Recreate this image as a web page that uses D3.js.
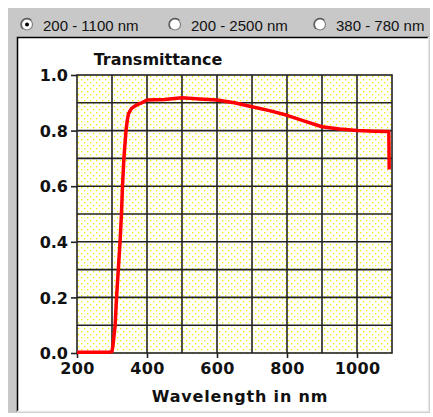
<!DOCTYPE html>
<html><head><meta charset="utf-8">
<script src="https://cdn.jsdelivr.net/npm/d3@7"></script>
<style>body{margin:0;background:#fff;}svg{display:block;}</style>
</head><body>
<script>
const wavelength = [200, 290, 300, 303, 309, 313, 318, 323, 327, 330, 334, 340, 344, 347, 352, 356, 365, 375, 385, 400, 450, 500, 550, 600, 650, 700, 750, 800, 850, 900, 950, 1000, 1050, 1091, 1092];
const transmittance = [0.003, 0.003, 0.005, 0.03, 0.1, 0.2, 0.3, 0.4, 0.5, 0.6, 0.7, 0.8, 0.84, 0.86, 0.872, 0.88, 0.888, 0.895, 0.9, 0.91, 0.912, 0.918, 0.914, 0.91, 0.9, 0.886, 0.872, 0.855, 0.834, 0.814, 0.806, 0.800, 0.798, 0.797, 0.66];
const xTickLabels = [200, 400, 600, 800, 1000];
const yTickLabels = [0.0, 0.2, 0.4, 0.6, 0.8, 1.0];
const xGrid = [300, 400, 500, 600, 700, 800, 900, 1000];
const yGrid = [0.1, 0.2, 0.3, 0.4, 0.5, 0.6, 0.7, 0.8, 0.9];
const rangeOptions = ["200 - 1100 nm", "200 - 2500 nm", "380 - 780 nm"];
const selectedOption = 0;
const titleText = "Transmittance";
const xAxisTitle = "Wavelength in nm";

const W = 433, H = 417;
const svg = d3.select("body").append("svg").attr("width", W).attr("height", H);

// pattern
const defs = svg.append("defs");
const pat = defs.append("pattern").attr("id", "dots").attr("patternUnits", "userSpaceOnUse")
  .attr("width", 6).attr("height", 6).attr("x", 77).attr("y", 75);
pat.append("rect").attr("width", 6).attr("height", 6).attr("fill", "#fff");
pat.append("rect").attr("x", 1).attr("y", 1).attr("width", 1.3).attr("height", 1.3).attr("fill", "#f4f000");
pat.append("rect").attr("x", 4).attr("y", 4).attr("width", 1.3).attr("height", 1.3).attr("fill", "#f4f000");

// window background
svg.append("rect").attr("x", 8).attr("y", 8).attr("width", 422).attr("height", 405).attr("fill", "#c8c8c8");
// panel
svg.append("rect").attr("x", 17).attr("y", 37).attr("width", 412).attr("height", 375).attr("fill", "#fff");
svg.append("path").attr("d", "M17.5,412 V37.5 H429").attr("fill", "none").attr("stroke", "#000").attr("stroke-width", 1.5);
svg.append("path").attr("d", "M17,411.5 H428.5 V37").attr("fill", "none").attr("stroke", "#e8e8e8").attr("stroke-width", 1.5);

// radio row
const radioX = [27, 175, 320];
rangeOptions.forEach((t, i) => {
  const g = svg.append("g");
  g.append("circle").attr("cx", radioX[i]).attr("cy", 24.5).attr("r", 5.5).attr("fill", "#fff").attr("stroke", "#808080").attr("stroke-width", 1.2);
  g.append("path").attr("d", d3.arc()({innerRadius: 5.5, outerRadius: 6.7, startAngle: -Math.PI*0.75, endAngle: Math.PI*0.25}))
    .attr("transform", `translate(${radioX[i]},24.5)`).attr("fill", "#555");
  if (i === selectedOption) g.append("circle").attr("cx", radioX[i]).attr("cy", 24.5).attr("r", 2).attr("fill", "#000");
  g.append("text").attr("x", radioX[i] + 16).attr("y", 30.5).attr("font-family", "Liberation Sans, Arial, sans-serif")
    .attr("font-size", 15).attr("fill", "#111").text(t);
});

const x = d3.scaleLinear().domain([200, 1100]).range([77, 392]);
const y = d3.scaleLinear().domain([0, 1]).range([353, 75]);

svg.append("rect").attr("x", 77).attr("y", 75).attr("width", 315).attr("height", 278).attr("fill", "url(#dots)");

const grid = svg.append("g").attr("stroke", "#222").attr("stroke-width", 1.6);
xGrid.forEach(v => grid.append("line").attr("x1", x(v)).attr("x2", x(v)).attr("y1", y(0)).attr("y2", y(1)));
yGrid.forEach(v => grid.append("line").attr("x1", x(200)).attr("x2", x(1100)).attr("y1", y(v)).attr("y2", y(v)));
grid.append("rect").attr("x", 77).attr("y", 75).attr("width", 315).attr("height", 278).attr("fill", "none");

const font = "DejaVu Sans, sans-serif";
// y axis
const yAxis = d3.axisLeft(y).tickValues(yTickLabels).tickSize(6).tickPadding(3).tickFormat(d3.format(".1f"));
const ya = svg.append("g").attr("transform", "translate(77,0)").call(yAxis);
ya.select(".domain").remove();
ya.selectAll(".tick line").attr("stroke", "#222").attr("stroke-width", 1.6);
ya.selectAll(".tick text").attr("font-family", font).attr("font-weight", "bold").attr("font-size", 16).attr("fill", "#111").attr("dy", "0.36em");

// x axis
const xAxis = d3.axisBottom(x).tickValues(xTickLabels).tickSize(5).tickPadding(4).tickFormat(d3.format("d"));
const xa = svg.append("g").attr("transform", "translate(0,353)").call(xAxis);
xa.select(".domain").remove();
xa.selectAll(".tick line").attr("stroke", "#222").attr("stroke-width", 1.6);
xa.selectAll(".tick text").attr("font-family", font).attr("font-weight", "bold").attr("font-size", 16).attr("fill", "#111").attr("dy", "0.78em").attr("letter-spacing", 0.3);

// titles
svg.append("text").attr("x", 158).attr("y", 65).attr("text-anchor", "middle").attr("font-family", font)
  .attr("font-weight", "bold").attr("font-size", 16).attr("fill", "#111").text(titleText);
svg.append("text").attr("x", 240).attr("y", 402).attr("text-anchor", "middle").attr("font-family", font)
  .attr("font-weight", "bold").attr("font-size", 16).attr("letter-spacing", 0.8).attr("fill", "#111").text(xAxisTitle);

// curve
const data = wavelength.map((w, i) => [w, transmittance[i]]);
svg.append("path").datum(data).attr("fill", "none").attr("stroke", "#ff0000").attr("stroke-width", 3.5)
  .attr("stroke-linejoin", "round")
  .attr("d", d3.line().x(d => x(d[0])).y(d => y(d[1])));
</script>
</body></html>
